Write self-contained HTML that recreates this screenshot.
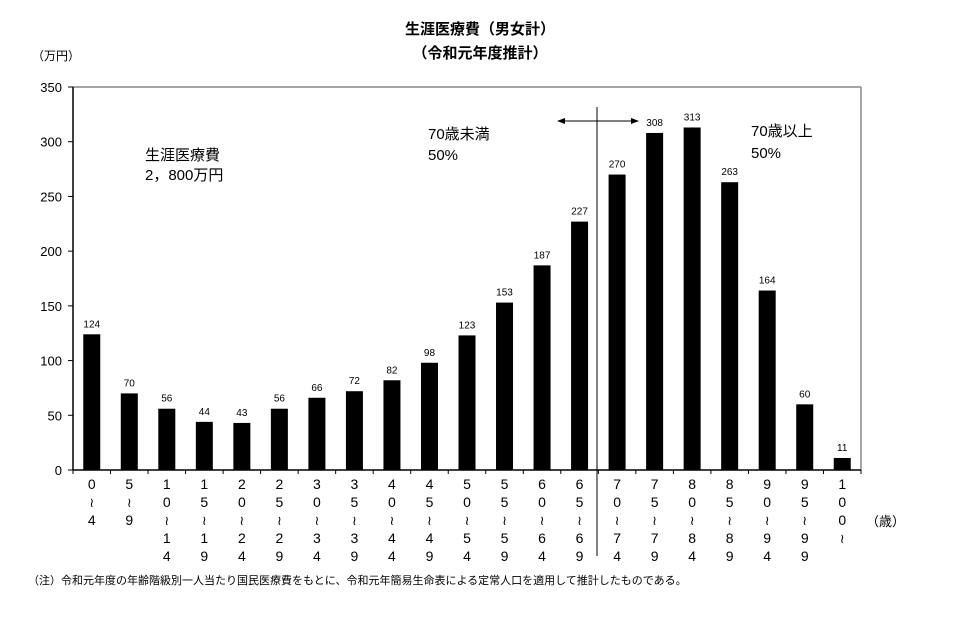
<!DOCTYPE html>
<html><head><meta charset="utf-8"><style>
body{margin:0;background:#fff;}
svg text{font-family:"Liberation Sans","Noto Sans CJK JP",sans-serif;}
</style></head><body>
<svg width="961" height="630" viewBox="0 0 961 630">
<g id="root"></g>
</svg>
<script>
const categories=[["0","~","4"],["5","~","9"],["1","0","~","1","4"],["1","5","~","1","9"],["2","0","~","2","4"],["2","5","~","2","9"],["3","0","~","3","4"],["3","5","~","3","9"],["4","0","~","4","4"],["4","5","~","4","9"],["5","0","~","5","4"],["5","5","~","5","9"],["6","0","~","6","4"],["6","5","~","6","9"],["7","0","~","7","4"],["7","5","~","7","9"],["8","0","~","8","4"],["8","5","~","8","9"],["9","0","~","9","4"],["9","5","~","9","9"],["1","0","0","~"]];
const values=[124,70,56,44,43,56,66,72,82,98,123,153,187,227,270,308,313,263,164,60,11];
const yTicks=[0,50,100,150,200,250,300,350];
const L=73,R=861,T=87,B=470,YMAX=350;
const n=values.length, cw=(R-L)/n, bw=17;
const xc=i=>L+cw*(i+0.5);
const y=v=>B-(v/YMAX)*(B-T);
const NS="http://www.w3.org/2000/svg";
const root=document.getElementById('root');
function mk(tag,attrs,txt){const e=document.createElementNS(NS,tag);for(const k in attrs)e.setAttribute(k,attrs[k]);if(txt!=null)e.textContent=txt;root.appendChild(e);return e;}
let e;
e=mk('text',{x:480,y:34,'text-anchor':'middle','font-size':15,'font-weight':'bold'},'生涯医療費（男女計）');


e=mk('text',{x:480,y:58,'text-anchor':'middle','font-size':15,'font-weight':'bold'},'（令和元年度推計）');


e=mk('text',{x:32,y:60,'font-size':12},'（万円）');


e=mk('line',{x1:L,y1:T,x2:R,y2:T,stroke:'#888','stroke-width':1.5});


e=mk('line',{x1:R,y1:T,x2:R,y2:B,stroke:'#888','stroke-width':1.5});


e=mk('line',{x1:L,y1:T,x2:L,y2:B,stroke:'#000','stroke-width':1.5});


e=mk('line',{x1:L,y1:B,x2:R,y2:B,stroke:'#000','stroke-width':1.5});


yTicks.forEach(t=>{
  e=mk('line',{x1:L-5,y1:y(t),x2:L,y2:y(t),stroke:'#000'});
  
  
  e=mk('text',{x:L-11,y:y(t)+5,'text-anchor':'end','font-size':13},String(t));
  
  
});
for(let i=0;i<=n;i++){
  e=mk('line',{x1:L+cw*i,y1:B,x2:L+cw*i,y2:B+4,stroke:'#000'});
  
  
}
values.forEach((v,i)=>{
  e=mk('rect',{x:xc(i)-bw/2,y:y(v),width:bw,height:B-y(v),fill:'#000'});
  
  
  e=mk('text',{x:xc(i),y:y(v)-7,'text-anchor':'middle','font-size':10},String(v));
  
  
  categories[i].forEach((c,j)=>{
    const isT=c==='~';
    e=mk('text',{x:xc(i),y:489+18*j,'text-anchor':'middle','font-size':isT?13:14},isT?'≀':c);
    
    
  });
});
e=mk('text',{x:866,y:526,'font-size':13},'（歳）');


e=mk('line',{x1:597,y1:107,x2:597,y2:556,stroke:'#000'});


e=mk('line',{x1:562,y1:121,x2:634,y2:121,stroke:'#000'});


e=mk('polygon',{points:'557,121 565,118 565,124',fill:'#000'});


e=mk('polygon',{points:'639,121 631,118 631,124',fill:'#000'});


[['生涯医療費',145,160],['2，800万円',145,180],['70歳未満',428,139],['50%',428,160],['70歳以上',751,136],['50%',751,158]].forEach(a=>{
  e=mk('text',{x:a[1],y:a[2],'font-size':15},a[0]);
  
  
});
e=mk('text',{x:28,y:584,'font-size':11},'（注）令和元年度の年齢階級別一人当たり国民医療費をもとに、令和元年簡易生命表による定常人口を適用して推計したものである。');


</script>
</body></html>
